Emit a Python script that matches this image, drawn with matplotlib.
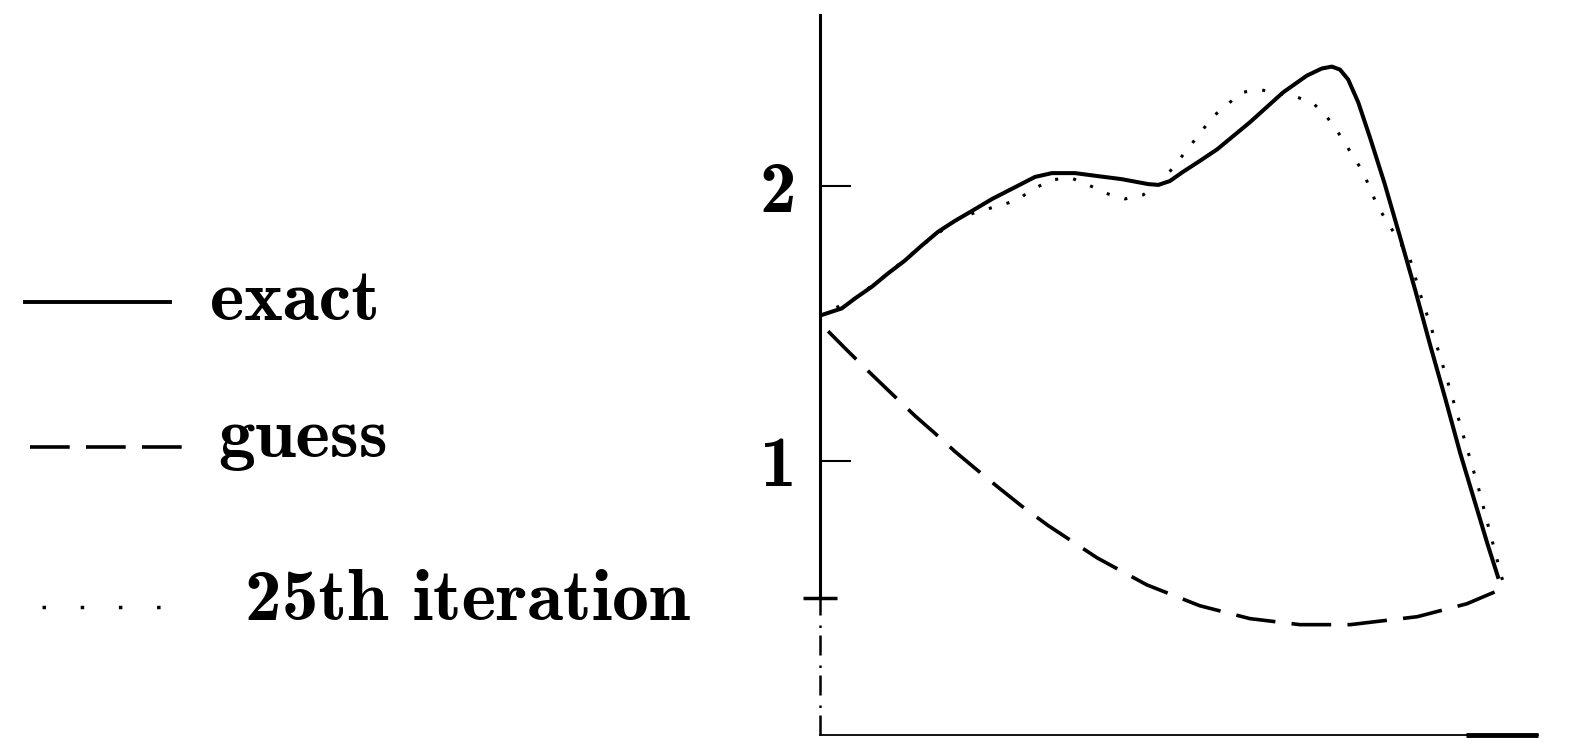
import matplotlib
matplotlib.use("Agg")
import matplotlib.pyplot as plt
from matplotlib.lines import Line2D

plt.rcParams['font.family'] = 'cmb10'
plt.rcParams['axes.unicode_minus'] = False

# solution profiles on the unit interval
x_exact = [0.0, 0.032, 0.052, 0.077, 0.100, 0.125, 0.150, 0.174, 0.199, 0.224,
           0.254, 0.288, 0.317, 0.342, 0.376, 0.410, 0.445, 0.484, 0.499, 0.516,
           0.535, 0.560, 0.586, 0.634, 0.683, 0.718, 0.740, 0.755, 0.767, 0.779,
           0.794, 0.811, 0.833, 0.855, 0.878, 0.900, 0.922, 0.944, 0.966, 0.985, 1.0]
y_exact = [1.528, 1.554, 1.591, 1.634, 1.681, 1.728, 1.783, 1.833, 1.873, 1.909,
           1.953, 1.996, 2.033, 2.047, 2.047, 2.036, 2.025, 2.007, 2.004, 2.018,
           2.051, 2.091, 2.134, 2.232, 2.341, 2.402, 2.428, 2.435, 2.424, 2.388,
           2.304, 2.178, 2.007, 1.819, 1.620, 1.420, 1.228, 1.029, 0.848, 0.692, 0.576]

x_guess = [0.012, 0.041, 0.071, 0.106, 0.140, 0.170, 0.199, 0.229, 0.263, 0.298,
           0.336, 0.409, 0.482, 0.560, 0.634, 0.708, 0.782, 0.881, 0.954, 0.996]
y_guess = [1.471, 1.399, 1.326, 1.243, 1.163, 1.098, 1.033, 0.971, 0.902, 0.833,
           0.764, 0.645, 0.547, 0.471, 0.424, 0.402, 0.402, 0.431, 0.478, 0.522]

x_iter = [0.0, 0.052, 0.100, 0.150, 0.199, 0.230, 0.258, 0.292, 0.307, 0.340,
          0.370, 0.403, 0.425, 0.450, 0.476, 0.501, 0.519, 0.550, 0.580, 0.622,
          0.649, 0.701, 0.726, 0.745, 0.764, 0.801, 0.822, 0.870, 0.885, 0.904,
          0.922, 0.938, 0.954, 0.971, 0.988, 1.010]
y_iter = [1.528, 1.591, 1.681, 1.783, 1.873, 1.905, 1.924, 1.949, 1.978, 2.022,
          2.030, 1.996, 1.971, 1.953, 1.967, 2.007, 2.062, 2.159, 2.254, 2.341,
          2.351, 2.326, 2.304, 2.261, 2.196, 2.051, 1.928, 1.736, 1.609, 1.464,
          1.319, 1.185, 1.047, 0.902, 0.739, 0.533]

labels = ['exact', 'guess', '25th iteration']
ytick_vals = [1, 2]
ytick_labels = ['1', '2']

W, H = 1569, 744
fig = plt.figure(figsize=(W / 100, H / 100), dpi=100)
ax = fig.add_axes([820 / W, 9 / H, 718 / W, 720 / H])

ymax = 2.623
ax.set_xlim(0, 1.059)
ax.set_ylim(0, ymax)

ax.plot(x_exact, y_exact, color='black', lw=2.9, solid_joinstyle='round')
ax.plot(x_guess, y_guess, color='black', lw=2.6, dashes=(11, 4.5))
ax.plot(x_iter, y_iter, color='black', lw=2.2, dashes=(1, 5), clip_on=False)

# axes: thick left spine (broken below the 0.5 tick), thin bottom line with a heavy end
for s in ['top', 'right']:
    ax.spines[s].set_visible(False)
ax.spines['left'].set_linewidth(2.2)
ax.spines['left'].set_bounds(0.5, ymax)
ax.axvline(0, ymin=0, ymax=0.5 / ymax, color='black', lw=1.8,
           dashes=(8, 3, 1, 4), clip_on=False)
ax.spines['bottom'].set_linewidth(1.3)
ax.plot([0.9, 1.0], [0, 0], transform=ax.transAxes, color='black', lw=3.5,
        solid_capstyle='butt', clip_on=False)

ax.set_xticks([])
ax.set_yticks(ytick_vals)
ax.set_yticklabels(ytick_labels)
ax.set_yticks([0.5], minor=True)
ax.tick_params(axis='y', which='major', direction='in', length=22, width=1.5,
               pad=17, labelsize=53)
ax.tick_params(axis='y', which='minor', direction='inout', length=24, width=2.5)

# key on the left
key_styles = [dict(lw=2.8), dict(lw=2.6, dashes=(11, 4.5)), dict(lw=2.5, dashes=(1, 10))]
key_lines = [(25, 170, 302), (30, 182, 447), (42, 178, 607)]
key_text = [(210, 320), (218, 457), (245, 620)]
for lab, st, (x0, x1, yl), (tx, ty) in zip(labels, key_styles, key_lines, key_text):
    fig.add_artist(Line2D([x0 / W, x1 / W], [1 - yl / H, 1 - yl / H],
                          transform=fig.transFigure, color='black', **st))
    fig.text(tx / W, 1 - ty / H, lab, fontsize=53, ha='left', va='baseline')

fig.savefig('out.png', dpi=100, facecolor='white')
